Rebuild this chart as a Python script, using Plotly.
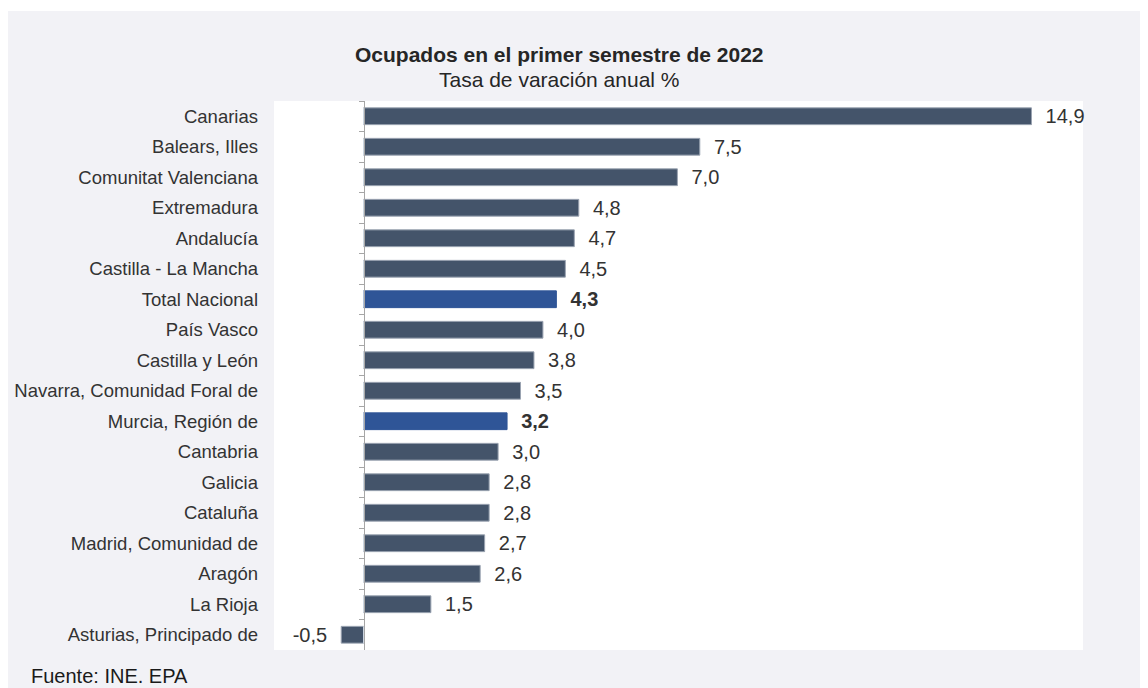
import plotly.graph_objects as go

categories = ["Canarias", "Balears, Illes", "Comunitat Valenciana", "Extremadura", "Andalucía",
              "Castilla - La Mancha", "Total Nacional", "País Vasco", "Castilla y León",
              "Navarra, Comunidad Foral de", "Murcia, Región de", "Cantabria", "Galicia",
              "Cataluña", "Madrid, Comunidad de", "Aragón", "La Rioja", "Asturias, Principado de"]
values = [14.9, 7.5, 7.0, 4.8, 4.7, 4.5, 4.3, 4.0, 3.8, 3.5, 3.2, 3.0, 2.8, 2.8, 2.7, 2.6, 1.5, -0.5]
highlight = ["Total Nacional", "Murcia, Región de"]

DARK = "#44546a"
BLUE = "#2f5597"
colors = [BLUE if c in highlight else DARK for c in categories]
line_colors = [BLUE if c in highlight else "#9aa3b1" for c in categories]
SP = "\u00a0\u00a0"
texts = []
for c, v in zip(categories, values):
    s = f"{v:.1f}".replace(".", ",")
    if c in highlight:
        s = f"<b>{s}</b>"
    texts.append(SP + s + SP)

W, H = 1148, 688
OX, OY = 8, 8  # page offset of figure (body margin)
L, R, T, B = 274 - OX, W - (1083 - OX), 101 - OY, H - (650 - OY)
PW, PH = 1083 - 274, 650 - 101

FONT = "Liberation Sans, Arial"

fig = go.Figure()
fig.add_trace(go.Bar(
    x=values, y=categories, orientation="h",
    marker=dict(color=colors, line=dict(color=line_colors, width=1)),
    width=0.55,
    text=texts, textposition="outside", cliponaxis=False, constraintext="none",
    textfont=dict(size=20, color="#333333", family=FONT),
    hoverinfo="skip",
))
# transparent trace on a secondary y axis that carries the axis line with boundary ticks
fig.add_trace(go.Bar(x=[0] * len(categories), y=categories, yaxis="y2", orientation="h",
                     marker=dict(color="rgba(0,0,0,0)"), showlegend=False, hoverinfo="skip"))

xmin, xmax = -2.0, 16.05
fig.update_layout(
    width=W, height=H,
    margin=dict(l=L, r=R, t=T, b=B, pad=0, autoexpand=False),
    paper_bgcolor="#f2f2f6", plot_bgcolor="white",
    showlegend=False,
    separators=",.",
    font=dict(family=FONT, color="#333333", size=18.5),
    xaxis=dict(range=[xmin, xmax], showgrid=False, zeroline=False, showticklabels=False,
               showline=False, ticks="", fixedrange=True, automargin=False),
    yaxis=dict(type="category", autorange="reversed", showgrid=False, showline=False, ticks="",
               ticklabelstandoff=15, tickfont=dict(size=18.5, color="#333333"), automargin=False),
    yaxis2=dict(type="category", autorange="reversed", overlaying="y", anchor="free",
                position=(0 - xmin) / (xmax - xmin), side="left", matches="y",
                showgrid=False, showline=True, linecolor="#a6a6a6", linewidth=1,
                ticks="outside", ticklen=5, tickcolor="#a6a6a6", tickson="boundaries",
                showticklabels=False, automargin=False),
    bargap=0.45,
)
# thin white strip at the top of the canvas (gray panel starts slightly lower)
fig.add_shape(type="rect", xref="paper", yref="paper", layer="below",
              x0=-0.5, x1=1.2, y0=1 + (101 - 11) / PH, y1=1 + (101 - 0) / PH,
              fillcolor="white", line=dict(width=0))
fig.add_annotation(text="<b>Ocupados en el primer semestre de 2022</b>", xref="paper", yref="paper",
                   x=(559 - 274) / PW, y=1 + (101 - 55) / PH, xanchor="center", yanchor="middle",
                   showarrow=False, font=dict(size=21, color="#262626"))
fig.add_annotation(text="Tasa de varación anual %", xref="paper", yref="paper",
                   x=(559 - 274) / PW, y=1 + (101 - 80) / PH, xanchor="center", yanchor="middle",
                   showarrow=False, font=dict(size=21, color="#262626"))
fig.add_annotation(text="Fuente: INE. EPA", xref="paper", yref="paper",
                   x=(29 - 274) / PW, y=1 - (676 - 101) / PH, xanchor="left", yanchor="middle",
                   showarrow=False, font=dict(size=20, color="#1a1a1a"))

fig.write_html("out.html")
